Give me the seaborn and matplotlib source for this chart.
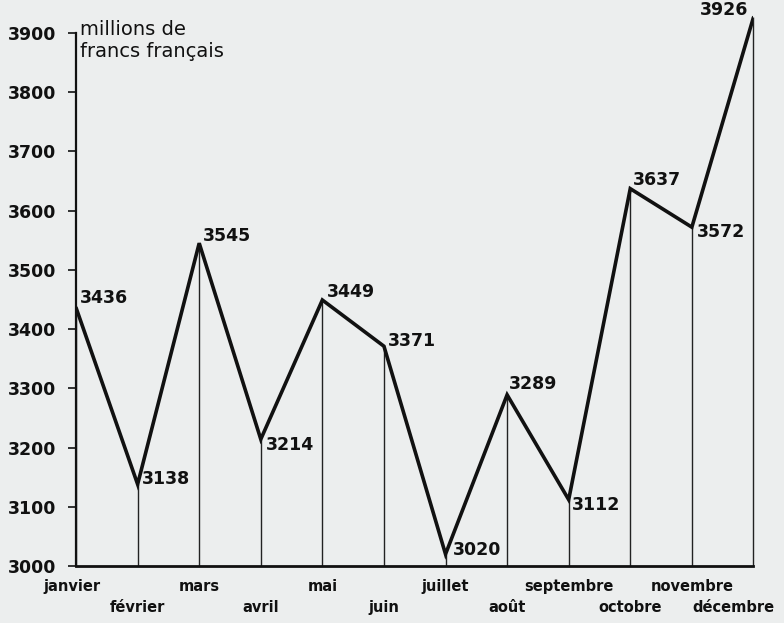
import matplotlib
matplotlib.use("Agg")
import matplotlib.pyplot as plt
import matplotlib.transforms as mtransforms
import seaborn as sns
import pandas as pd
import numpy as np

months = ["janvier", "février", "mars", "avril", "mai", "juin",
          "juillet", "août", "septembre", "octobre", "novembre", "décembre"]
values = [3436, 3138, 3545, 3214, 3449, 3371, 3020, 3289, 3112, 3637, 3572, 3926]
yticks = [3000, 3100, 3200, 3300, 3400, 3500, 3600, 3700, 3800, 3900]
unit_label = "millions de\nfrancs français"

# label offsets in points (style only)
offsets = [(3, 7), (3, 4), (3, 5), (3.5, -4), (3.5, 6), (3, 4),
           (5, 3), (1.5, 7.5), (2.5, -3.5), (2, 6.5), (3.5, -3.5), (-4, 5.5)]
aligns = ["left"] * 11 + ["right"]

sns.set_style("white")
plt.rcParams["font.family"] = ["DejaVu Sans"]

bg = "#eceeee"
fig = plt.figure(figsize=(7.84, 6.23), dpi=100, facecolor=bg)
ax = fig.add_axes([0.097, 0.0915, 0.864, 0.889])
ax.set_facecolor(bg)

df = pd.DataFrame({"x": np.arange(len(months)), "value": values})

ax.vlines(df["x"], 3000, df["value"], color="#222222", lw=1.0, zorder=2,
          clip_on=False)
sns.lineplot(data=df, x="x", y="value", ax=ax, color="#111111", lw=2.6,
             zorder=3, solid_joinstyle="miter")

for xi, v, off, ha in zip(df["x"], values, offsets, aligns):
    ax.annotate(str(v), (xi, v), xytext=off, textcoords="offset points",
                ha=ha, va="center",
                fontsize=12.5, fontweight="bold", color="#111111")

ax.set_xlim(0, 11)
ax.set_ylim(3000, 3935)
ax.set_yticks(yticks)
ax.set_yticklabels([str(t) for t in yticks], fontsize=12.5, fontweight="bold",
                   color="#111111")
ax.tick_params(axis="y", length=6, width=1.2, color="#111111", pad=8, left=True)
ax.set_xticks(df["x"])
ax.set_xticklabels(months, fontsize=10.5, fontweight="bold", color="#111111")
ax.tick_params(axis="x", length=0, pad=9.5)
ax.set_xlabel("")
ax.set_ylabel("")

# stagger labels on two rows, nudge the edge ones the way the lettering sits
lbls = ax.get_xticklabels()
for i, lb in enumerate(lbls):
    dx = 0.0
    if i == 0:
        dx = -4
    if i == len(lbls) - 1:
        dx = -20
    dy = -21 if i % 2 == 1 else 0
    lb.set_transform(lb.get_transform() +
                     mtransforms.ScaledTranslation(dx / 100, dy / 100, fig.dpi_scale_trans))

for s in ["top", "right"]:
    ax.spines[s].set_visible(False)
ax.spines["left"].set_bounds(3000, 3900)
ax.spines["left"].set_linewidth(1.6)
ax.spines["left"].set_color("#111111")
ax.spines["bottom"].set_linewidth(2.0)
ax.spines["bottom"].set_color("#111111")

ax.text(0.006, 0.985, unit_label, transform=ax.transAxes, ha="left", va="top",
        fontsize=14, color="#111111", linespacing=1.15)

fig.savefig("out.png", dpi=100, facecolor=bg)
